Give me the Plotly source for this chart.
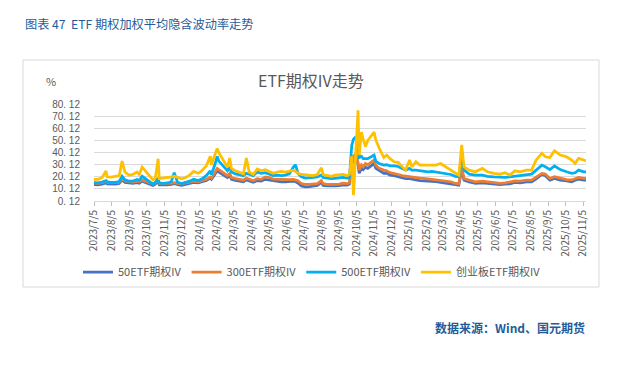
import plotly.graph_objects as go

dates = [
    "2023-07-05", "2023-07-12", "2023-07-19", "2023-07-26", "2023-07-28", "2023-08-04", "2023-08-11",
    "2023-08-18", "2023-08-23", "2023-08-28", "2023-09-04", "2023-09-11", "2023-09-18", "2023-09-22",
    "2023-09-27", "2023-10-09", "2023-10-16", "2023-10-20", "2023-10-25", "2023-10-27", "2023-11-03",
    "2023-11-10", "2023-11-17", "2023-11-22", "2023-11-28", "2023-12-05", "2023-12-12", "2023-12-19",
    "2023-12-26", "2024-01-03", "2024-01-10", "2024-01-17", "2024-01-24", "2024-01-26", "2024-02-01",
    "2024-02-05", "2024-02-08", "2024-02-20", "2024-02-23", "2024-02-27", "2024-03-01", "2024-03-08",
    "2024-03-15", "2024-03-22", "2024-03-27", "2024-04-01", "2024-04-08", "2024-04-15", "2024-04-22",
    "2024-04-29", "2024-05-06", "2024-05-13", "2024-05-20", "2024-05-27", "2024-06-03", "2024-06-10",
    "2024-06-17", "2024-06-21", "2024-06-25", "2024-07-01", "2024-07-08", "2024-07-15", "2024-07-22",
    "2024-07-29", "2024-08-05", "2024-08-08", "2024-08-15", "2024-08-22", "2024-08-29", "2024-09-05",
    "2024-09-12", "2024-09-19", "2024-09-23", "2024-09-27", "2024-09-30", "2024-10-04", "2024-10-08",
    "2024-10-10", "2024-10-14", "2024-10-17", "2024-10-21", "2024-10-25", "2024-11-05", "2024-11-08",
    "2024-11-14", "2024-11-22", "2024-11-27", "2024-12-03", "2024-12-10", "2024-12-17", "2024-12-24",
    "2024-12-30", "2025-01-06", "2025-01-10", "2025-01-17", "2025-01-24", "2025-02-07", "2025-02-14",
    "2025-02-21", "2025-03-01", "2025-03-10", "2025-03-19", "2025-03-27", "2025-04-02", "2025-04-07",
    "2025-04-11", "2025-04-20", "2025-05-01", "2025-05-13", "2025-05-22", "2025-06-02", "2025-06-13",
    "2025-06-22", "2025-06-30", "2025-07-09", "2025-07-18", "2025-07-29", "2025-08-07", "2025-08-15",
    "2025-08-25", "2025-08-31", "2025-09-08", "2025-09-16", "2025-09-26", "2025-10-07", "2025-10-16",
    "2025-10-22", "2025-10-28", "2025-11-06", "2025-11-10",
]

iv_50etf = [
    13.7, 13.5, 14.0, 15.0, 14.2, 13.8, 14.0,
    14.5, 17.5, 15.5, 14.8, 14.6, 15.2, 14.8,
    16.5, 14.5, 13.0, 14.0, 16.0, 13.5, 13.2,
    13.5, 13.8, 14.5, 13.5, 13.0, 13.8, 14.5,
    15.5, 15.0, 15.8, 17.0, 19.0, 18.0, 22.0,
    25.0, 24.0, 20.0, 19.5, 21.0, 18.0, 17.0,
    16.5, 16.0, 17.5, 16.5, 15.5, 17.0, 16.5,
    18.0, 17.5, 16.5, 16.5, 16.0, 16.0, 16.2,
    16.5, 16.0, 15.0, 12.5, 11.8, 12.0, 12.5,
    13.0, 15.5, 13.0, 12.5, 12.3, 12.5, 12.8,
    13.5, 13.2, 14.0, 30.0, 34.0, 36.0, 30.0,
    23.0, 27.0, 26.0, 28.0, 27.0, 31.0, 27.0,
    25.0, 23.0, 23.0, 21.5, 21.0, 20.0, 19.0,
    18.5, 18.5, 18.0, 17.5, 17.0, 16.8, 16.5,
    16.0, 15.5, 15.0, 14.5, 13.5, 13.2, 26.0,
    17.3, 15.9, 14.6, 15.1, 14.8, 14.0, 13.7,
    14.0, 14.3, 15.4, 15.1, 15.9, 15.9, 18.4,
    22.0, 21.0, 17.3, 18.7, 17.3, 16.7, 16.0,
    17.3, 18.2, 17.3, 17.3,
]

iv_300etf = [
    15.0, 14.6, 15.2, 16.2, 15.4, 15.0, 15.2,
    15.6, 18.5, 16.6, 16.0, 15.8, 16.4, 16.0,
    17.5, 15.8, 14.2, 15.2, 17.0, 14.6, 14.4,
    14.6, 14.8, 15.2, 14.6, 14.2, 15.0, 15.5,
    16.5, 16.0, 17.0, 18.0, 20.0, 19.0, 23.5,
    27.0, 26.0, 21.5, 21.0, 23.0, 19.5, 18.5,
    18.0, 17.3, 19.0, 17.8, 16.8, 18.5, 18.0,
    20.0, 19.5, 18.2, 18.0, 17.8, 17.8, 17.8,
    18.0, 17.5, 16.8, 14.5, 13.8, 13.8, 14.0,
    14.5, 17.0, 14.5, 13.8, 13.5, 13.8, 14.0,
    14.8, 14.5, 15.0, 32.0, 37.0, 39.0, 32.0,
    25.6, 30.0, 28.3, 31.0, 30.0, 34.0, 29.7,
    27.0, 25.6, 25.0, 23.5, 23.0, 22.0, 21.0,
    20.5, 20.2, 19.8, 19.3, 19.0, 18.3, 18.0,
    17.5, 17.0, 16.6, 16.0, 14.6, 14.4, 28.3,
    18.7, 17.3, 15.9, 16.5, 16.0, 15.1, 14.6,
    15.1, 15.9, 16.7, 16.5, 17.3, 17.3, 19.5,
    22.9, 22.3, 18.7, 20.1, 18.7, 17.8, 17.5,
    18.5, 19.5, 18.7, 18.7,
]

iv_500etf = [
    15.2, 15.0, 15.8, 17.0, 16.0, 15.4, 15.5,
    16.2, 20.5, 17.5, 16.5, 16.6, 17.8, 17.0,
    20.5, 16.5, 14.0, 15.5, 19.0, 15.0, 14.6,
    15.0, 16.0, 23.5, 15.5, 14.5, 15.2, 16.5,
    18.0, 17.0, 18.5, 21.0, 25.0, 22.0, 30.0,
    37.0, 33.0, 27.0, 25.0, 28.0, 24.0, 22.5,
    21.5, 21.0, 23.0, 22.0, 21.0, 24.0, 23.0,
    23.5, 22.0, 21.0, 21.5, 21.0, 21.5, 22.5,
    28.0, 30.0, 23.0, 20.0, 19.0, 19.0, 19.5,
    20.0, 21.5, 19.5, 19.0, 18.5, 18.8, 19.0,
    19.5, 19.0, 19.5, 46.0, 51.0, 53.0, 45.0,
    36.0, 37.0, 35.0, 35.0, 35.0, 38.0, 33.0,
    31.0, 29.7, 30.0, 29.0, 29.0, 28.6, 27.0,
    25.6, 27.0, 25.5, 25.6, 25.0, 24.2, 24.5,
    24.0, 23.5, 23.0, 22.0, 20.5, 20.2, 38.0,
    25.6, 22.3, 21.5, 21.5, 20.5, 20.1, 19.6,
    19.6, 20.0, 20.6, 20.6, 21.5, 22.3, 25.6,
    29.7, 28.3, 26.0, 29.0, 26.0, 24.2, 22.9,
    23.4, 25.6, 24.2, 24.2,
]

iv_cyb = [
    17.9, 18.0, 19.3, 24.8, 20.0, 19.8, 20.5,
    21.0, 33.0, 24.0, 21.5, 22.0, 24.0, 22.0,
    28.0, 21.0, 17.5, 19.0, 35.0, 18.5, 18.8,
    19.5, 20.0, 20.5, 19.5, 18.5, 19.5, 21.5,
    24.5, 23.0, 25.5, 29.0, 37.0, 30.0, 38.0,
    43.5, 40.0, 30.0, 28.0, 35.5, 27.0, 25.0,
    23.5, 22.5, 35.5, 24.0, 22.0, 26.5, 25.0,
    26.0, 24.5, 23.0, 24.0, 24.5, 24.0, 24.5,
    25.5, 24.5, 23.0, 22.0, 21.5, 21.5, 21.0,
    22.0, 27.5, 22.0, 21.0, 20.5, 21.5, 21.5,
    22.0, 21.0, 22.0, 37.0, 5.0, 40.0, 75.0,
    38.0, 57.0, 51.0, 45.0, 50.0, 57.0, 50.5,
    43.6, 36.0, 38.0, 35.0, 32.5, 32.0, 28.3,
    25.6, 33.9, 28.3, 32.5, 29.7, 29.7, 30.0,
    29.7, 31.0, 28.3, 25.6, 22.9, 21.5, 46.4,
    28.3, 25.6, 24.2, 27.0, 24.2, 22.9, 22.3,
    23.4, 21.5, 25.0, 24.2, 25.6, 25.6, 34.0,
    39.4, 36.6, 36.0, 41.6, 38.0, 36.6, 33.9,
    31.2, 35.3, 33.9, 33.4,
]

series_names = ["50ETF期权IV", "300ETF期权IV", "500ETF期权IV", "创业板ETF期权IV"]
series_values = [iv_50etf, iv_300etf, iv_500etf, iv_cyb]
series_colors = ["#4472C4", "#ED7D31", "#00B0F0", "#FFC000"]

y_ticks = [0.12, 10.12, 20.12, 30.12, 40.12, 50.12, 60.12, 70.12, 80.12]
y_tick_text = ["0. 12", "10. 12", "20. 12", "30. 12", "40. 12", "50. 12", "60. 12", "70. 12", "80. 12"]

x_ticks = ["2023-07-05", "2023-08-05", "2023-09-05", "2023-10-05", "2023-11-05", "2023-12-05",
           "2024-01-05", "2024-02-05", "2024-03-05", "2024-04-05", "2024-05-05", "2024-06-05",
           "2024-07-05", "2024-08-05", "2024-09-05", "2024-10-05", "2024-11-05", "2024-12-05",
           "2025-01-05", "2025-02-05", "2025-03-05", "2025-04-05", "2025-05-05", "2025-06-05",
           "2025-07-05", "2025-08-05", "2025-09-05", "2025-10-05", "2025-11-05"]
x_tick_text = ["2023/7/5", "2023/8/5", "2023/9/5", "2023/10/5", "2023/11/5", "2023/12/5",
               "2024/1/5", "2024/2/5", "2024/3/5", "2024/4/5", "2024/5/5", "2024/6/5",
               "2024/7/5", "2024/8/5", "2024/9/5", "2024/10/5", "2024/11/5", "2024/12/5",
               "2025/1/5", "2025/2/5", "2025/3/5", "2025/4/5", "2025/5/5", "2025/6/5",
               "2025/7/5", "2025/8/5", "2025/9/5", "2025/10/5", "2025/11/5"]

FONT = "Noto Sans CJK SC, Microsoft YaHei, sans-serif"
NUMFONT = "Liberation Sans, Arial, sans-serif"
GREY = "#595959"

fig = go.Figure()
for name, vals, col in zip(series_names, series_values, series_colors):
    fig.add_trace(go.Scatter(x=dates, y=vals, name=name, mode="lines",
                             line=dict(color=col, width=2.75)))

# The page body has an 8px margin; work in page pixels and convert.
OFF = 8
W, H = 613, 365
L = 94 - OFF
T = 104 - OFF
R = W - (586 - OFF)
B = H - (201 - OFF)
pw, ph = W - L - R, H - T - B


def px(x):
    return (x - OFF - L) / pw


def py(y):
    return (H - B - (y - OFF)) / ph


fig.update_layout(
    width=W, height=H,
    margin=dict(l=L, r=R, t=T, b=B),
    paper_bgcolor="white", plot_bgcolor="white",
    font=dict(family=FONT, color=GREY, size=10),
    showlegend=True,
    legend=dict(orientation="h", x=px(312), xanchor="center", y=py(272), yanchor="middle",
                font=dict(size=11, color=GREY), itemwidth=30, tracegroupgap=0,
                bgcolor="rgba(0,0,0,0)"),
    xaxis=dict(type="date", range=["2023-07-05", "2025-11-10"],
               tickvals=x_ticks, ticktext=x_tick_text, tickangle=-90,
               tickfont=dict(size=10, color=GREY),
               showgrid=False, showline=True, linecolor="#D9D9D9", linewidth=1,
               ticks="outside", ticklen=4, tickcolor="#BFBFBF", zeroline=False),
    yaxis=dict(range=[0.12, 80.12], tickvals=y_ticks, ticktext=y_tick_text,
               tickfont=dict(size=10, color=GREY, family=NUMFONT),
               showgrid=True, gridcolor="#D9D9D9", gridwidth=1,
               showline=False, zeroline=False, ticks="", ticklabelstandoff=13),
    shapes=[dict(type="rect", xref="paper", yref="paper",
                 x0=px(23), x1=px(599), y0=py(287), y1=py(60),
                 line=dict(color="#D9D9D9", width=1), fillcolor="rgba(0,0,0,0)", layer="below")],
    annotations=[
        dict(text="图表 47  ETF 期权加权平均隐含波动率走势", xref="paper", yref="paper",
             x=px(23), y=py(24), xanchor="left", yanchor="middle", showarrow=False,
             font=dict(size=12.2, color="#1F5C99", family=FONT)),
        dict(text="ETF期权IV走势", xref="paper", yref="paper",
             x=px(311), y=py(80), xanchor="center", yanchor="middle", showarrow=False,
             font=dict(size=16, color=GREY, family=FONT)),
        dict(text="%", xref="paper", yref="paper",
             x=px(51), y=py(81), xanchor="center", yanchor="middle", showarrow=False,
             font=dict(size=11, color=GREY, family=FONT)),
        dict(text="<b>数据来源：Wind、国元期货</b>", xref="paper", yref="paper",
             x=px(587), y=py(327), xanchor="right", yanchor="middle", showarrow=False,
             font=dict(size=12, color="#1F5C99", family=FONT)),
    ],
)

fig.write_html("out.html")
